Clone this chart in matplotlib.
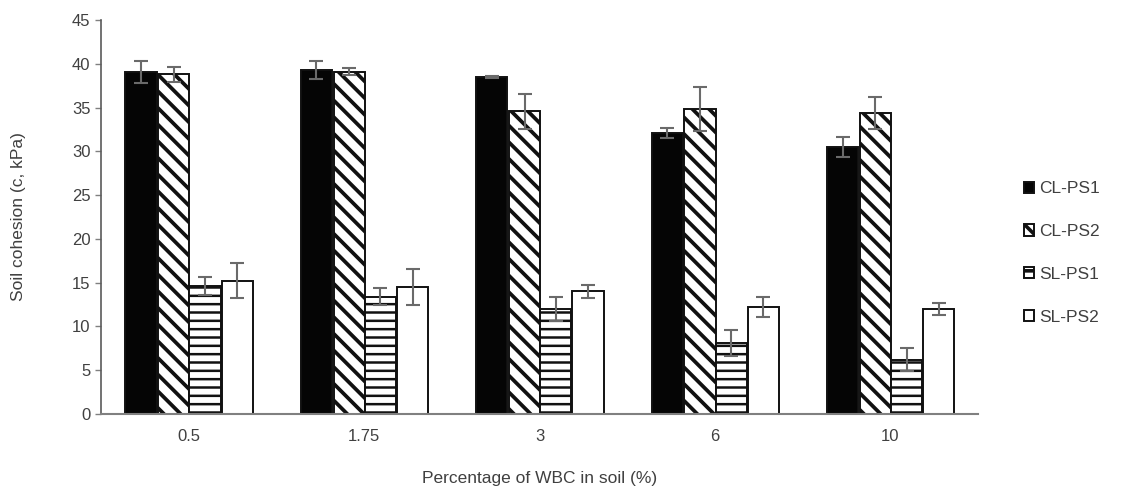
import matplotlib.pyplot as plt
import numpy as np

plt.rcParams['font.family'] = ['Liberation Sans', 'DejaVu Sans']
plt.rcParams['hatch.linewidth'] = 2.6

wbc = ["0.5", "1.75", "3", "6", "10"]
series = ["CL-PS1", "CL-PS2", "SL-PS1", "SL-PS2"]

cl_ps1 = [39.1, 39.3, 38.5, 32.1, 30.5]
cl_ps2 = [38.8, 39.1, 34.6, 34.8, 34.4]
sl_ps1 = [14.6, 13.4, 12.0, 8.1, 6.2]
sl_ps2 = [15.2, 14.5, 14.0, 12.2, 12.0]

cl_ps1_err = [1.25, 1.05, 0.15, 0.6, 1.1]
cl_ps2_err = [0.85, 0.4, 2.0, 2.5, 1.85]
sl_ps1_err = [1.0, 0.95, 1.35, 1.5, 1.3]
sl_ps2_err = [2.0, 2.1, 0.7, 1.15, 0.65]

values = [cl_ps1, cl_ps2, sl_ps1, sl_ps2]
errors = [cl_ps1_err, cl_ps2_err, sl_ps1_err, sl_ps2_err]
faces = ["#050505", "white", "white", "white"]
hatches = [None, "\\\\", "--", None]
hatch_lw = [1.0, 2.7, 1.8, 1.0]
offsets = [-0.272, -0.085, 0.093, 0.277]
width = 0.178

fig = plt.figure(figsize=(11.23, 4.94), dpi=100)
ax = fig.add_axes([101 / 1123, 1 - 414 / 494, 877 / 1123, 394 / 494])

x = np.arange(len(wbc))
for i in range(len(series)):
    bars = ax.bar(x + offsets[i], values[i], width, color=faces[i], edgecolor="#111111",
                  linewidth=1.4, hatch=hatches[i], label=series[i], zorder=2)
    for b in bars:
        if hasattr(b, "set_hatch_linewidth"):
            b.set_hatch_linewidth(hatch_lw[i])
    ax.errorbar(x + offsets[i], values[i], yerr=errors[i], fmt="none",
                ecolor="#6a6a6a", elinewidth=1.5, capsize=5, capthick=1.5, zorder=3)

ax.set_xlim(-0.5, len(wbc) - 0.5)
ax.set_ylim(0, 45)
ax.set_yticks(range(0, 46, 5))
ax.set_xticks(x)
ax.set_xticklabels(wbc)
ax.tick_params(axis="x", length=0, pad=11, labelsize=12, labelcolor="#404040")
ax.tick_params(axis="y", length=4, width=1, color="#808080", labelsize=12, labelcolor="#404040")
for s in ["top", "right"]:
    ax.spines[s].set_visible(False)
ax.spines["left"].set_color("#5a5a5a")
ax.spines["bottom"].set_color("#808080")
ax.spines["left"].set_linewidth(1.2)
ax.spines["bottom"].set_linewidth(1.5)

ax.set_ylabel("Soil cohesion (c, kPa)", fontsize=12.5, color="#404040")
ax.set_xlabel("Percentage of WBC in soil (%)", fontsize=12.5, color="#404040", labelpad=19)
ax.yaxis.set_label_coords(-75 / 877, 0.5)

fig.legend(loc="center left", bbox_to_anchor=(1008 / 1123, 1 - 253 / 494), frameon=False,
           fontsize=12.5, handlelength=0.6, handleheight=0.6, handletextpad=0.3,
           labelspacing=1.6, labelcolor="#404040")

fig.savefig("out.png", dpi=100)
